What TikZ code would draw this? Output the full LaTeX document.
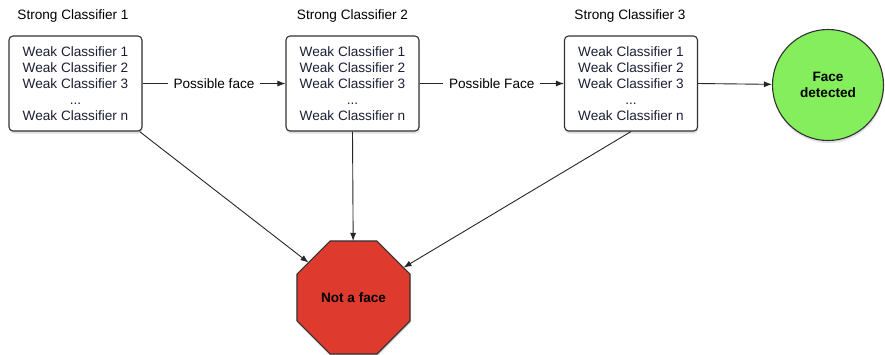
\documentclass[tikz,border=0pt]{standalone}
\usepackage{fontspec}
\setmainfont{Liberation Sans}
\usetikzlibrary{arrows.meta,shapes.geometric,shadows}
\definecolor{boxtext}{RGB}{30,30,55}
\definecolor{facegreen}{RGB}{132,238,92}
\definecolor{stopred}{RGB}{222,58,46}
\definecolor{edgegray}{RGB}{50,50,50}
\begin{document}
\begin{tikzpicture}[x=1pt,y=-1pt,
  every node/.style={font=\fontsize{13.6}{16}\selectfont},
  classbox/.style={draw=edgegray, line width=1.1pt, rounded corners=4pt, fill=white,
    minimum width=133pt, minimum height=95pt, align=center, text=boxtext, inner sep=2pt,
    drop shadow={shadow xshift=0.5pt, shadow yshift=-2.5pt, opacity=0.25}},
  titlelbl/.style={text=black},
  conn/.style={draw=black!85, line width=0.9pt, -{Latex[length=8pt,width=6pt]}},
  edgelbl/.style={fill=white, inner xsep=6pt, inner ysep=2pt, text=black},
  goal/.style={circle, draw=edgegray, line width=1.1pt, fill=facegreen, minimum size=111pt,
    inner sep=0pt, align=center, font=\fontsize{13.6}{16}\selectfont\bfseries,
    drop shadow={shadow xshift=0.5pt, shadow yshift=-2.5pt, opacity=0.25}},
  stopsign/.style={regular polygon, regular polygon sides=8, draw=edgegray, line width=1.1pt,
    fill=stopred, minimum size=122.4pt, inner sep=0pt, outer sep=0pt,
    font=\fontsize{13.6}{16}\selectfont\bfseries,
    drop shadow={shadow xshift=0.5pt, shadow yshift=-2.5pt, opacity=0.25}}
]
\useasboundingbox (0,0) rectangle (885,354);

\node[classbox] (b1) at (75.5,83.5) {Weak Classifier 1\\Weak Classifier 2\\Weak Classifier 3\\...\\Weak Classifier n};
\node[classbox] (b2) at (352.5,83.5) {Weak Classifier 1\\Weak Classifier 2\\Weak Classifier 3\\...\\Weak Classifier n};
\node[classbox] (b3) at (631,83.5) {Weak Classifier 1\\Weak Classifier 2\\Weak Classifier 3\\...\\Weak Classifier n};

\node[titlelbl] (t1) at (73,16) {Strong Classifier 1};
\node[titlelbl] (t2) at (352.5,16) {Strong Classifier 2};
\node[titlelbl] (t3) at (630,16) {Strong Classifier 3};

\node[goal] (face) at (828,85) {Face\\detected};
\node[stopsign] (stop) at (353.5,297.5) {Not a face};

\draw[conn] (b1.east) -- node[edgelbl] (l1) {Possible face} (b2.west);
\draw[conn] (b2.east) -- node[edgelbl] (l2) {Possible Face} (b3.west);
\draw[conn] (b3.east) -- (face);
\draw[conn] ([xshift=-3pt]b1.south east) -- (stop);
\draw[conn] (b2.south) -- (stop);
\draw[conn] (b3.south) -- (stop);
\end{tikzpicture}
\end{document}
